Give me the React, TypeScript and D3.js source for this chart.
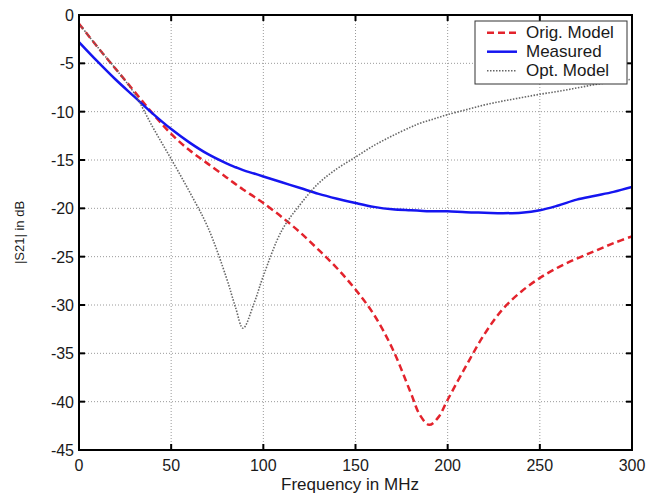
import React from "react";
import { scaleLinear, line, curveCatmullRom } from "d3";

// frequency grid in MHz
const freq = [0, 10, 20, 30, 40, 50, 60, 70, 80, 85, 89, 95, 100, 110, 120, 130, 140, 150, 160, 170, 180, 185, 190, 195, 200, 210, 220, 230, 240, 250, 260, 270, 280, 290, 300];

// |S21| in dB for each series
const origModel = [-0.9, -3.3, -5.6, -7.9, -10.2, -12.3, -14.0, -15.4, -16.8, -17.5, -18.05, -18.8, -19.45, -20.9, -22.5, -24.3, -26.2, -28.4, -31.0, -34.5, -39.1, -41.4, -42.4, -41.6, -39.8, -36.3, -33.0, -30.4, -28.6, -27.2, -26.1, -25.2, -24.4, -23.6, -22.9];
const measured = [-2.8, -4.8, -6.7, -8.45, -10.2, -11.8, -13.2, -14.4, -15.35, -15.75, -16.05, -16.4, -16.7, -17.3, -17.9, -18.5, -19.0, -19.45, -19.85, -20.1, -20.2, -20.25, -20.3, -20.3, -20.3, -20.4, -20.45, -20.5, -20.45, -20.2, -19.7, -19.1, -18.7, -18.3, -17.8];
const optModel = [-0.9, -3.3, -5.6, -8.1, -11.6, -14.9, -18.3, -22.0, -27.2, -30.3, -32.4, -29.8, -27.0, -22.3, -19.6, -17.4, -15.9, -14.7, -13.5, -12.5, -11.6, -11.2, -10.9, -10.6, -10.3, -9.8, -9.3, -8.9, -8.55, -8.2, -7.9, -7.55, -7.2, -6.9, -6.65];

const xTicks = [0, 50, 100, 150, 200, 250, 300];
const yTicks = [0, -5, -10, -15, -20, -25, -30, -35, -40, -45];

const series = [
  { name: "Orig. Model", values: origModel, color: "#e3232c", width: 2.5, dash: "7,4" },
  { name: "Measured", values: measured, color: "#1515f0", width: 2.5, dash: null },
  { name: "Opt. Model", values: optModel, color: "#666", width: 1.6, dash: "1.5,1.5" },
];

const W = 649;
const H = 494;
const margin = { left: 79, right: 17, top: 15, bottom: 44 };

export default function App() {
  const x = scaleLinear().domain([0, 300]).range([margin.left, W - margin.right]);
  const y = scaleLinear().domain([-45, 0]).range([H - margin.bottom, margin.top]);
  const x0 = x(0), x1 = x(300), y0 = y(0), y1 = y(-45);
  const font = "'Liberation Sans', Arial, sans-serif";
  const tick = 6;

  const drawLine = (vals: number[]) =>
    line<number>()
      .x((_, i) => x(freq[i]))
      .y((v) => y(v))
      .curve(curveCatmullRom.alpha(0.5))(vals) || "";

  const legendX = 475, legendY = 21;

  return (
    <svg
      width={W}
      height={H}
      style={{ position: "absolute", left: 0, top: 0, background: "#fff" }}
      fontFamily={font}
    >
      <defs>
        <clipPath id="plot">
          <rect x={x0} y={y0} width={x1 - x0} height={y1 - y0} />
        </clipPath>
      </defs>

      {/* grid */}
      <g stroke="#9a9a9a" strokeWidth={1} strokeDasharray="1,2">
        {xTicks.slice(1, -1).map((t) => (
          <line key={"gx" + t} x1={x(t)} x2={x(t)} y1={y0} y2={y1} />
        ))}
        {yTicks.slice(1, -1).map((t) => (
          <line key={"gy" + t} x1={x0} x2={x1} y1={y(t)} y2={y(t)} />
        ))}
      </g>

      {/* curves */}
      <g clipPath="url(#plot)" fill="none">
        {series.map((s) => (
          <path
            key={s.name}
            d={drawLine(s.values)}
            stroke={s.color}
            strokeWidth={s.width}
            strokeDasharray={s.dash || undefined}
          />
        ))}
      </g>

      {/* ticks, inward on all sides */}
      <g stroke="#000" strokeWidth={2}>
        {xTicks.map((t) => (
          <g key={"tx" + t}>
            <line x1={x(t)} x2={x(t)} y1={y1} y2={y1 - tick} />
            <line x1={x(t)} x2={x(t)} y1={y0} y2={y0 + tick} />
          </g>
        ))}
        {yTicks.map((t) => (
          <g key={"ty" + t}>
            <line x1={x0} x2={x0 + tick} y1={y(t)} y2={y(t)} />
            <line x1={x1} x2={x1 - tick} y1={y(t)} y2={y(t)} />
          </g>
        ))}
      </g>
      <rect x={x0} y={y0} width={x1 - x0} height={y1 - y0} fill="none" stroke="#000" strokeWidth={2} />

      {/* tick labels */}
      <g fontSize={16} fill="#1a1a1a">
        {xTicks.map((t) => (
          <text key={"lx" + t} x={x(t)} y={y1 + 21} textAnchor="middle">
            {t}
          </text>
        ))}
        {yTicks.map((t) => (
          <text key={"ly" + t} x={x0 - 5} y={y(t) + 6} textAnchor="end">
            {t}
          </text>
        ))}
      </g>

      {/* axis labels */}
      <text x={350} y={490} textAnchor="middle" fontSize={17} fill="#1a1a1a">
        Frequency in MHz
      </text>
      <text
        transform={`translate(24, ${(y0 + y1) / 2}) rotate(-90)`}
        textAnchor="middle"
        fontSize={13}
        fill="#1a1a1a"
      >
        |S21| in dB
      </text>

      {/* legend */}
      <g>
        <rect x={legendX} y={legendY} width={152} height={63} fill="#fff" stroke="#333" strokeWidth={1} />
        {series.map((s, i) => {
          const ly = legendY + 11.7 + i * 19;
          return (
            <g key={"lg" + s.name}>
              <line
                x1={legendX + 12}
                x2={legendX + 42}
                y1={ly}
                y2={ly}
                stroke={s.color}
                strokeWidth={s.width}
                strokeDasharray={s.dash || undefined}
              />
              <text x={legendX + 51} y={ly + 5.5} fontSize={17} fill="#1a1a1a">
                {s.name}
              </text>
            </g>
          );
        })}
      </g>
    </svg>
  );
}
